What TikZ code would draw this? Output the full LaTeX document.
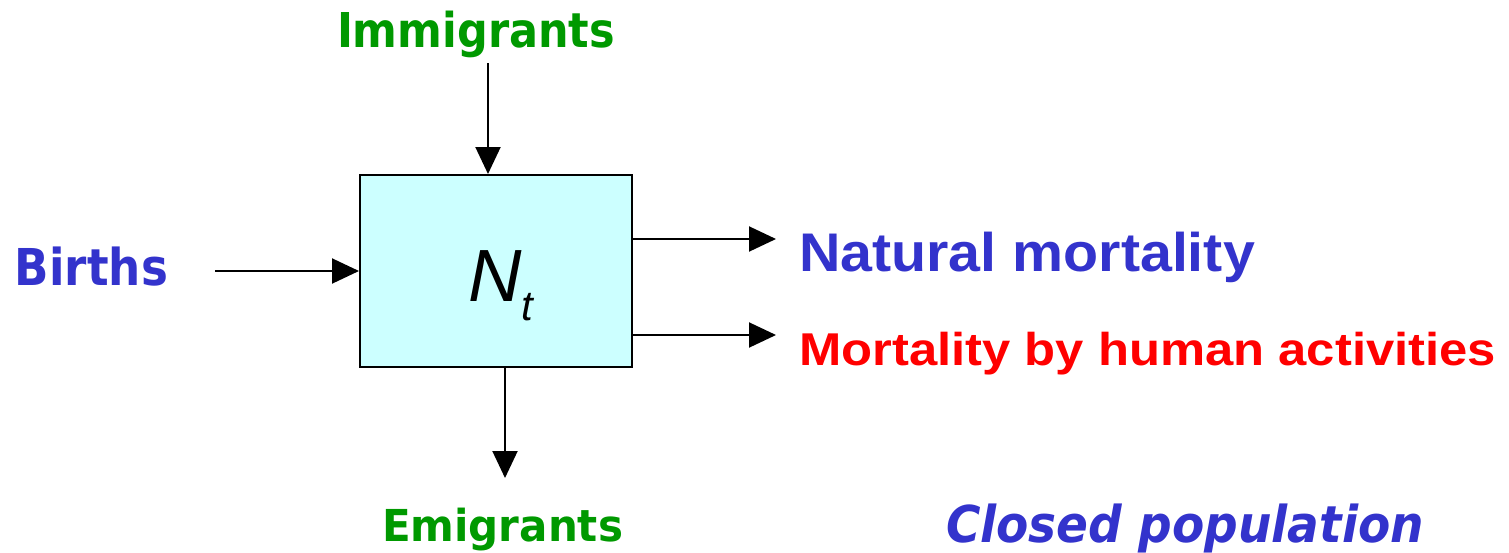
\documentclass[tikz,border=0pt]{standalone}
\usepackage{fontspec}
\usepackage{graphicx}
\setmainfont{Liberation Sans}
\newfontfamily\dvs{DejaVu Sans}
\newfontfamily\lib{Liberation Sans}
\usetikzlibrary{arrows.meta}
\definecolor{tblue}{HTML}{3333CC}
\definecolor{tgreen}{HTML}{009900}
\definecolor{tred}{HTML}{FF0000}
\definecolor{boxfill}{HTML}{CCFFFF}
\newlength\fitlen
\newcommand\fitx[2]{\settowidth\fitlen{#2}\pgfmathsetmacro\fitr{#1/\fitlen}\scalebox{\fitr}[1]{#2}}
\tikzset{
  arr/.style={line width=1pt, -{Triangle[length=13.5pt,width=12.5pt]}},
  lbl/.style={anchor=base west, inner sep=0pt, outer sep=0pt},
  popbox/.style={draw, line width=1pt, fill=boxfill, minimum width=136pt, minimum height=96pt, inner sep=0pt}
}
\begin{document}
\begin{tikzpicture}[x=0.5pt,y=-0.5pt]
\path[use as bounding box] (0,0) rectangle (1509,552);
\node[popbox] (box) at (496,271) {};
\node[lbl] (nt) at (468,301) {\fontsize{37}{40}\selectfont\itshape N\raisebox{-9.5pt}{\fontsize{21}{24}\selectfont t}};
\node[lbl, text=tgreen] (imm) at (337,47) {\fontsize{24}{28}\selectfont\dvs\bfseries\fitx{139}{Immigrants}};
\node[lbl, text=tblue] (bir) at (15,285) {\fontsize{25.4}{28}\selectfont\dvs\bfseries\fitx{76.5}{Births}};
\node[lbl, text=tgreen] (emi) at (382,541) {\fontsize{22}{26}\selectfont\dvs\bfseries\fitx{120.5}{Emigrants}};
\node[lbl, text=tblue] (nat) at (799,271) {\fontsize{27.2}{30}\selectfont\lib\bfseries\fitx{228}{Natural mortality}};
\node[lbl, text=tred] (hum) at (799,365) {\fontsize{23}{26}\selectfont\lib\bfseries\fitx{348.5}{Mortality by human activities}};
\node[lbl, text=tblue] (clo) at (946,542) {\fontsize{25.4}{28}\selectfont\dvs\bfseries\itshape\fitx{239}{Closed population}};
\coordinate (imstart) at (488,63);
\coordinate (bistart) at (215,271);
\coordinate (natend) at (776,239);
\coordinate (humend) at (776,335);
\coordinate (emend) at (505,478);
\draw[arr] (imstart) -- (imstart |- box.north);
\draw[arr] (bistart) -- (box.west);
\draw[arr] (natend -| box.east) -- (natend);
\draw[arr] (humend -| box.east) -- (humend);
\draw[arr] (emend |- box.south) -- (emend);
\end{tikzpicture}
\end{document}
